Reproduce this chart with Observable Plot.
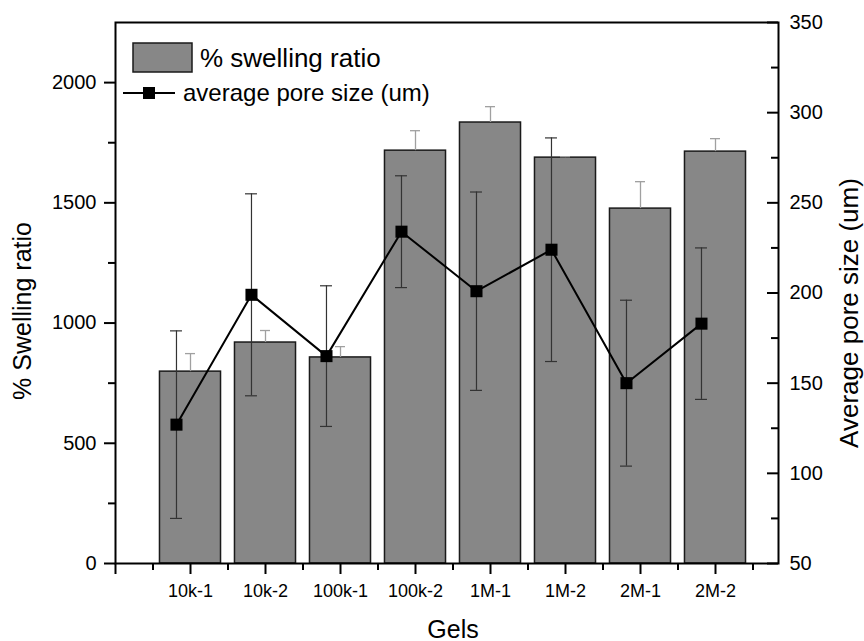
<!DOCTYPE html>
<html>
<head>
<meta charset="utf-8">
<script src="https://cdn.jsdelivr.net/npm/d3@7"></script>
<script src="https://cdn.jsdelivr.net/npm/@observablehq/plot@0.6"></script>
<style>
  html, body { margin: 0; padding: 0; background: white; }
  #chart { width: 864px; height: 641px; }
</style>
</head>
<body>
<div id="chart"></div>
<script>
// ---- data ----
const gels = ["10k-1", "10k-2", "100k-1", "100k-2", "1M-1", "1M-2", "2M-1", "2M-2"];
const swelling = [798, 919, 857, 1717, 1834, 1688, 1476, 1713];
const swellingErr = [75, 50, 45, 83, 66, 4, 112, 54];
const pore = [127, 199, 165, 234, 201, 224, 150, 183];
const poreErr = [52, 56, 39, 31, 55, 62, 46, 42];

const leftTicks = [0, 500, 1000, 1500, 2000];
const leftMinor = [250, 750, 1250, 1750];
const rightTicks = [50, 100, 150, 200, 250, 300, 350];
const rightMinor = [75, 125, 175, 225, 275, 325];

// ---- layout helpers ----
const xMax = 8.84;            // x domain in category-position units
const leftMax = 2250;         // left axis domain top
const rightMin = 50, rightMaxV = 350;
const k = leftMax / (rightMaxV - rightMin);
const toLeft = v => (v - rightMin) * k;   // map right-axis values into left scale

const barHalf = 0.407;
const poreOffset = -0.187;

const rows = gels.map((g, i) => ({
  gel: g,
  pos: i + 1,
  swelling: swelling[i],
  sTop: swelling[i] + swellingErr[i],
  pPos: i + 1 + poreOffset,
  pore: toLeft(pore[i]),
  pLo: toLeft(pore[i] - poreErr[i]),
  pHi: toLeft(pore[i] + poreErr[i])
}));

const barFill = "#878787";
const font = "'Liberation Sans', Arial, Helvetica, sans-serif";

const chart = Plot.plot({
  width: 864,
  height: 641,
  marginLeft: 115,
  marginRight: 86,
  marginTop: 22,
  marginBottom: 78,
  x: {domain: [0, xMax], axis: null},
  y: {domain: [0, leftMax], axis: null},
  style: {fontFamily: font, fontSize: "20px", background: "white", color: "black", overflow: "visible"},
  marks: [
    // bars
    Plot.rectY(rows, {x1: d => d.pos - barHalf, x2: d => d.pos + barHalf, y: "swelling", fill: barFill, stroke: "#1a1a1a", strokeWidth: 1.5}),
    // bar error bars (upper only)
    Plot.ruleX(rows, {x: "pos", y1: "swelling", y2: "sTop", stroke: "#a0a0a0", strokeWidth: 1.3}),
    Plot.ruleY(rows, {y: "sTop", x1: d => d.pos - 5 / 75, x2: d => d.pos + 5 / 75, stroke: "#a0a0a0", strokeWidth: 1.3}),
    // pore error bars
    Plot.ruleX(rows, {x: "pPos", y1: "pLo", y2: "pHi", stroke: "#333", strokeWidth: 1.2}),
    Plot.ruleY(rows, {y: "pLo", x1: d => d.pPos - 6 / 75, x2: d => d.pPos + 6 / 75, stroke: "#333", strokeWidth: 1.2}),
    Plot.ruleY(rows, {y: "pHi", x1: d => d.pPos - 6 / 75, x2: d => d.pPos + 6 / 75, stroke: "#333", strokeWidth: 1.2}),
    // pore line + markers
    Plot.line(rows, {x: "pPos", y: "pore", stroke: "black", strokeWidth: 2}),
    Plot.dot(rows, {x: "pPos", y: "pore", symbol: "square", r: 6.8, fill: "black", stroke: "none"}),
    // frame
    Plot.frame({stroke: "black", strokeWidth: 2}),
    // left axis
    Plot.axisY({anchor: "left", ticks: leftTicks, tickSize: 11, tickPadding: 8, strokeWidth: 2, tickFormat: d => String(d)}),
    Plot.axisY({anchor: "left", ticks: leftMinor, tickSize: 7, strokeWidth: 2, tickFormat: () => ""}),
    // right axis (inward ticks)
    Plot.ruleY(rightTicks, {y: d => toLeft(d), x1: xMax - 11 / 75, x2: xMax, stroke: "black", strokeWidth: 2}),
    Plot.ruleY(rightMinor, {y: d => toLeft(d), x1: xMax - 7 / 75, x2: xMax, stroke: "black", strokeWidth: 2}),
    Plot.axisY({anchor: "right", ticks: rightTicks.map(toLeft), tickSize: 0, tickPadding: 11, tickFormat: d => String(Math.round(d / k + rightMin))}),
    // bottom axis
    Plot.axisX({anchor: "bottom", ticks: d3.range(0, 9), tickSize: 11, tickPadding: 10, strokeWidth: 2, tickFormat: i => i >= 1 ? gels[i - 1] : ""}),
    Plot.axisX({anchor: "bottom", ticks: d3.range(0.5, 9, 1), tickSize: 7, strokeWidth: 2, tickFormat: () => ""}),
    // axis titles
    Plot.text(["Gels"], {frameAnchor: "bottom", text: d => d, dx: 6, dy: 74, lineAnchor: "bottom", fontSize: 25, fill: "black"}),
    Plot.text(["% Swelling ratio"], {frameAnchor: "left", text: d => d, rotate: -90, dx: -93, dy: 18, fontSize: 25, fill: "black", textAnchor: "middle"}),
    Plot.text(["Average pore size (um)"], {frameAnchor: "right", text: d => d, rotate: -90, dx: 71, dy: 20, fontSize: 26, fill: "black", textAnchor: "middle"})
  ]
});

document.getElementById("chart").appendChild(chart);

const svg = d3.select(chart);
// tick label sizes
svg.selectAll('g[aria-label="y-axis tick label"]').style("font-size", "20px");
svg.selectAll('g[aria-label="x-axis tick label"]').style("font-size", "18px");

// ---- legend inside plot area ----
const lg = svg.append("g").attr("font-family", font)
  .attr("fill", "black").attr("text-anchor", "start");
lg.append("rect").attr("x", 133).attr("y", 43).attr("width", 59).attr("height", 29)
  .attr("fill", barFill).attr("stroke", "#1a1a1a").attr("stroke-width", 1.5);
lg.append("text").attr("x", 200).attr("y", 58).attr("dy", "0.35em").attr("text-anchor", "start")
  .style("font-size", "26px").text("% swelling ratio");
lg.append("line").attr("x1", 123).attr("x2", 175).attr("y1", 93).attr("y2", 93)
  .attr("stroke", "black").attr("stroke-width", 2);
lg.append("rect").attr("x", 143).attr("y", 87).attr("width", 12).attr("height", 12).attr("fill", "black");
lg.append("text").attr("x", 183).attr("y", 93).attr("dy", "0.35em").attr("text-anchor", "start")
  .style("font-size", "24px").text("average pore size (um)");
</script>
</body>
</html>
